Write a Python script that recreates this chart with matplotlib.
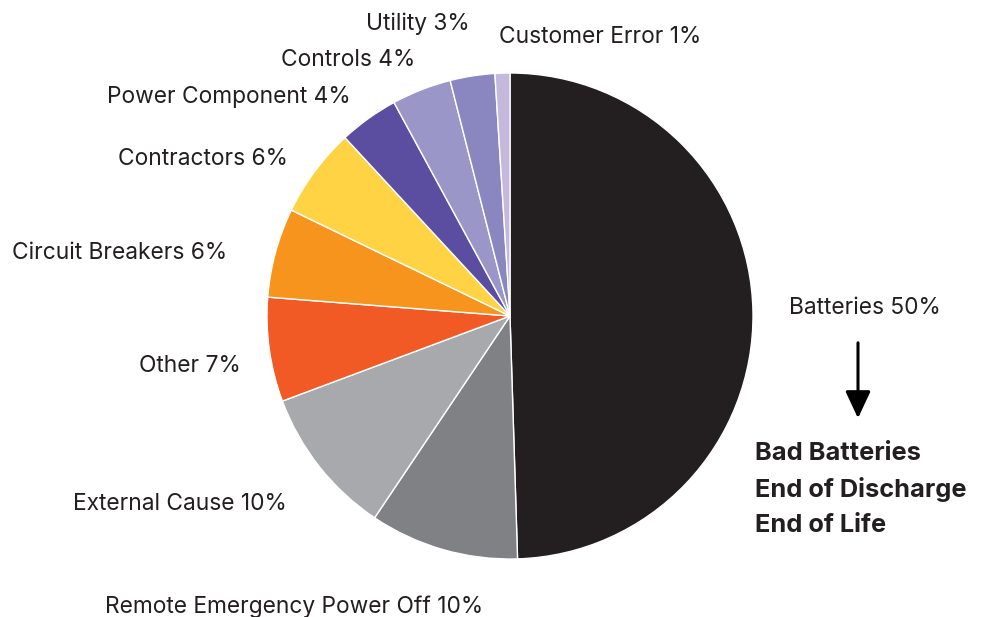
import numpy as np
import matplotlib.pyplot as plt

plt.rcParams['font.family'] = ['Inter', 'DejaVu Sans']

# slices, clockwise from 12 o'clock
labels = ["Batteries 50%", "Remote Emergency Power Off 10%", "External Cause 10%",
          "Other 7%", "Circuit Breakers 6%", "Contractors 6%", "Power Component 4%",
          "Controls 4%", "Utility 3%", "Customer Error 1%"]
values = [50, 10, 10, 7, 6, 6, 4, 4, 3, 1]
colors = ["#231f20", "#808184", "#a7a9ac", "#f15a24", "#f7941d", "#ffd344",
          "#5b4ea0", "#9b96c8", "#8a86bf", "#c4b8dc"]

# label anchor points in pixels (centre x, centre y)
label_px = [(865, 308), (294, 607), (180, 504), (190, 366), (120, 253),
            (203, 159), (229, 97), (348, 60), (418, 24), (600, 37)]

cx, cy, r = 510, 316, 243
W, H = 982, 617


def px(x, y):
    return (x - cx) / r, (cy - y) / r


fig = plt.figure(figsize=(W / 100, H / 100), dpi=100)
ax = fig.add_axes([0, 0, 1, 1])
ax.pie(values, colors=colors, startangle=90, counterclock=False, radius=1,
       wedgeprops=dict(edgecolor="white", linewidth=1))
ax.set_xlim(px(0, 0)[0], px(W, 0)[0])
ax.set_ylim(px(0, H)[1], px(0, 0)[1])
ax.set_aspect("equal")
ax.axis("off")

for lab, (x, y) in zip(labels, label_px):
    ax.text(*px(x, y), lab, ha="center", va="center", fontsize=16.4, color="#231f20")

# arrow and batteries detail
ax.annotate("", xy=px(858, 421), xytext=px(858, 340),
            arrowprops=dict(arrowstyle="-|>,head_length=1.5,head_width=0.7",
                            color="black", lw=2.2, mutation_scale=11))
for i, t in enumerate(["Bad Batteries", "End of Discharge", "End of Life"]):
    ax.text(*px(755, 453 + i * 36.5), t, ha="left", va="center", fontsize=18.3,
            fontweight="bold", color="#231f20")

fig.savefig("out.png", dpi=100)
